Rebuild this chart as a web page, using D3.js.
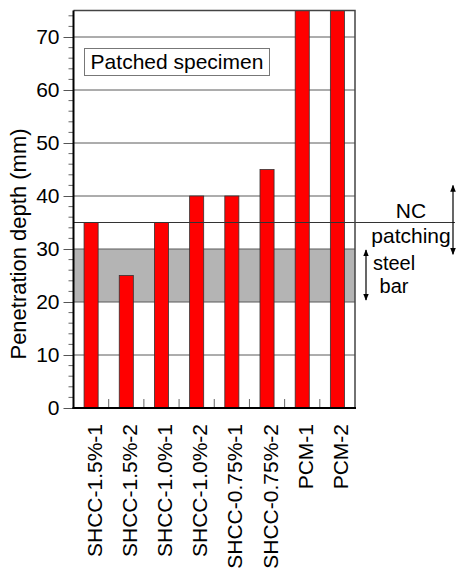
<!DOCTYPE html>
<html>
<head>
<meta charset="utf-8">
<script src="https://cdn.jsdelivr.net/npm/d3@7"></script>
<style>
  html, body { margin: 0; padding: 0; background: #fff; }
  svg { display: block; font-family: "Liberation Sans", Arial, sans-serif; }
</style>
</head>
<body>
<svg id="chart" width="456" height="576"></svg>
<script>
// Penetration depth of patched specimens
const categories = ["SHCC-1.5%-1", "SHCC-1.5%-2", "SHCC-1.0%-1", "SHCC-1.0%-2",
                    "SHCC-0.75%-1", "SHCC-0.75%-2", "PCM-1", "PCM-2"];
const depths = [35, 25, 35, 40, 40, 45, 75, 75];
const yTicks = [0, 10, 20, 30, 40, 50, 60, 70];
const steelBarZone = [20, 30];
const patchingDepth = 35;
const patchingArrow = [42, 29];

const svg = d3.select("#chart");
const plotLeft = 73.5, plotRight = 355, plotTop = 10.5, plotBottom = 408;
const fs = 21;

const x = d3.scaleBand().domain(categories).range([plotLeft, plotRight])
  .paddingInner(0.6).paddingOuter(0.3);
const y = d3.scaleLinear().domain([0, 75]).range([plotBottom, plotTop]);

const defs = svg.append("defs");
defs.append("marker").attr("id", "ah").attr("viewBox", "0 0 10 10")
  .attr("refX", 9).attr("refY", 5).attr("markerWidth", 7).attr("markerHeight", 7)
  .attr("markerUnits", "userSpaceOnUse")
  .attr("orient", "auto-start-reverse")
  .append("path").attr("d", "M0,1 L10,5 L0,9 Z").attr("fill", "#000");

// steel bar zone
svg.append("rect").attr("x", plotLeft).attr("width", plotRight - plotLeft)
  .attr("y", y(steelBarZone[1])).attr("height", y(steelBarZone[0]) - y(steelBarZone[1]))
  .attr("fill", "#b4b4b4");

// horizontal grid
svg.append("g").selectAll("line").data(yTicks.filter(d => d > 0)).join("line")
  .attr("x1", plotLeft).attr("x2", plotRight)
  .attr("y1", d => y(d)).attr("y2", d => y(d))
  .attr("stroke", "#5a5a5a").attr("stroke-width", 1);

// bars
svg.append("g").selectAll("rect").data(depths).join("rect")
  .attr("x", (d, i) => x(categories[i]))
  .attr("width", x.bandwidth())
  .attr("y", d => y(d))
  .attr("height", d => y(0) - y(d))
  .attr("fill", "#ff0000").attr("stroke", "#333").attr("stroke-width", 0.8);

// patching depth line
svg.append("line").attr("x1", plotLeft).attr("x2", 455)
  .attr("y1", y(patchingDepth)).attr("y2", y(patchingDepth))
  .attr("stroke", "#333").attr("stroke-width", 1);

// frame top/right
svg.append("path")
  .attr("d", `M${plotLeft},${plotTop}H${plotRight}V${plotBottom}`)
  .attr("fill", "none").attr("stroke", "#444").attr("stroke-width", 1.5);

// minor x ticks at category boundaries
const step = x.step();
const x0 = x(categories[0]) - x.paddingOuter() * step;
svg.append("g").selectAll("line").data(d3.range(1, categories.length)).join("line")
  .attr("x1", i => x0 + i * step).attr("x2", i => x0 + i * step)
  .attr("y1", plotBottom).attr("y2", plotBottom - 9)
  .attr("stroke", "#666").attr("stroke-width", 1);

// y axis
const yAxis = svg.append("g").attr("transform", `translate(${plotLeft},0)`)
  .call(d3.axisLeft(y).tickValues(yTicks).tickSize(10).tickPadding(4).tickFormat(d3.format("d")));
yAxis.select(".domain").remove();
yAxis.selectAll(".tick line").attr("stroke", "#555");
yAxis.selectAll(".tick text").attr("font-size", fs).attr("fill", "#000")
  .attr("font-family", "'Liberation Sans', Arial, sans-serif");
// minor y ticks
svg.append("g").selectAll("line").data(d3.range(2, 76, 2).filter(d => d % 10 !== 0)).join("line")
  .attr("x1", plotLeft - 5).attr("x2", plotLeft)
  .attr("y1", d => y(d)).attr("y2", d => y(d))
  .attr("stroke", "#666").attr("stroke-width", 1);

// axis lines
svg.append("line").attr("x1", plotLeft).attr("x2", plotLeft).attr("y1", plotTop).attr("y2", plotBottom + 1)
  .attr("stroke", "#000").attr("stroke-width", 2);
svg.append("line").attr("x1", plotLeft - 1).attr("x2", plotRight + 1).attr("y1", plotBottom).attr("y2", plotBottom)
  .attr("stroke", "#000").attr("stroke-width", 2);

// category labels
svg.append("g").selectAll("text").data(categories).join("text")
  .attr("transform", d => `translate(${x(d) + x.bandwidth() / 2},424) rotate(-90)`)
  .attr("dy", "0.5em").attr("text-anchor", "end")
  .attr("font-size", fs).text(d => d);

// y axis title
svg.append("text").attr("transform", "translate(18,244) rotate(-90)")
  .attr("dy", "0.35em").attr("text-anchor", "middle")
  .attr("font-size", 22).text("Penetration depth (mm)");

// panel label
svg.append("rect").attr("x", 84.5).attr("y", 48.5).attr("width", 185).attr("height", 27)
  .attr("fill", "#fff").attr("stroke", "#777").attr("stroke-width", 1);
svg.append("text").attr("x", 177).attr("y", 69).attr("text-anchor", "middle")
  .attr("font-size", fs).text("Patched specimen");

// NC patching annotation
svg.append("text").attr("x", 411).attr("y", y(patchingDepth) - 5)
  .attr("text-anchor", "middle").attr("font-size", fs).text("NC");
svg.append("text").attr("x", 411).attr("y", y(patchingDepth) + 20)
  .attr("text-anchor", "middle").attr("font-size", fs).text("patching");
svg.append("line").attr("x1", 453).attr("x2", 453)
  .attr("y1", y(patchingArrow[0])).attr("y2", y(patchingArrow[1]))
  .attr("stroke", "#000").attr("stroke-width", 1.2)
  .attr("marker-start", "url(#ah)").attr("marker-end", "url(#ah)");

// steel bar annotation
svg.append("line").attr("x1", 366).attr("x2", 366)
  .attr("y1", y(steelBarZone[1]) + 1).attr("y2", y(steelBarZone[0]) - 2)
  .attr("stroke", "#000").attr("stroke-width", 1.2)
  .attr("marker-start", "url(#ah)").attr("marker-end", "url(#ah)");
svg.append("text").attr("x", 394).attr("y", 270)
  .attr("text-anchor", "middle").attr("font-size", 20).text("steel");
svg.append("text").attr("x", 394).attr("y", 293)
  .attr("text-anchor", "middle").attr("font-size", 20).text("bar");
</script>
</body>
</html>
